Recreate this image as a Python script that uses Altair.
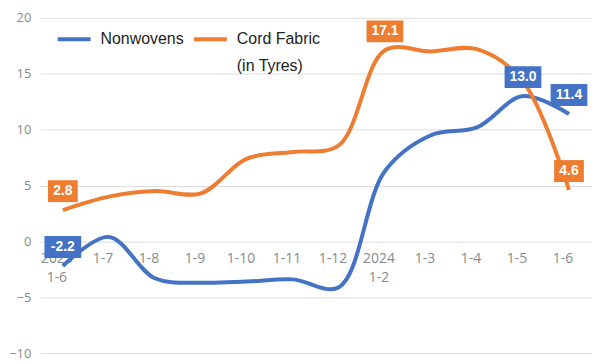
import altair as alt
import pandas as pd

categories = ["2023\n1-6", "1-7", "1-8", "1-9", "1-10", "1-11", "1-12",
              "2024\n1-2", "1-3", "1-4", "1-5", "1-6"]
nonwovens = [-2.2, 0.4, -3.3, -3.7, -3.6, -3.4, -4.1, 6.3, 9.5, 10.2, 13.0, 11.4]
cord_fabric = [2.8, 4.0, 4.5, 4.3, 7.4, 8.0, 8.6, 17.1, 17.0, 17.2, 14.3, 4.6]
series_names = ["Nonwovens", "Cord Fabric"]
series_colors = ["#4472C4", "#ED7D31"]
nonwovens_labeled = [0, 10, 11]
cord_labeled = [0, 7, 11]
y_ticks = [-10, -5, 0, 5, 10, 15, 20]

rows = []
for i, c in enumerate(categories):
    rows.append({"cat": c, "series": "Nonwovens", "value": nonwovens[i],
                 "lab": i in nonwovens_labeled})
    rows.append({"cat": c, "series": "Cord Fabric", "value": cord_fabric[i],
                 "lab": i in cord_labeled})
df = pd.DataFrame(rows)
df["label"] = df["value"].map(lambda v: f"{v:.1f}")
cats_df = pd.DataFrame({"cat": categories})

x_enc = alt.X("cat:N", sort=categories,
              scale=alt.Scale(type="point", padding=0.5), axis=None)
y_scale = alt.Scale(domain=[-10, 20], nice=False, zero=False)
y_axis = alt.Axis(values=y_ticks, title=None, domain=False, ticks=False, grid=True,
                  labelPadding=9, labelFontSize=13, labelColor="#8a8a8a",
                  labelFont="Open Sans", gridColor="#dedede", gridWidth=1)
color_scale = alt.Scale(domain=series_names, range=series_colors)
color_enc = alt.Color("series:N", scale=color_scale,
                      legend=alt.Legend(title=None, orient="none", legendX=16, legendY=3,
                                        direction="horizontal", symbolType="stroke",
                                        symbolSize=1089, symbolStrokeWidth=4,
                                        labelFontSize=16, labelFont="Liberation Sans",
                                        labelColor="#222222", labelOffset=8,
                                        columnPadding=2, labelBaseline="middle",
                                        gridAlign="none",
                                        labelExpr="datum.label == 'Cord Fabric' ? ['Cord Fabric', '(in Tyres)'] : [datum.label, '']"))

xlabels = alt.Chart(cats_df).mark_text(
    lineBreak="\n", baseline="top", dy=11, dx=-6, fontSize=14,
    font="Open Sans", color="#8a8a8a", lineHeight=19
).encode(x=x_enc, y=alt.datum(0, scale=y_scale, axis=y_axis), text="cat:N")

lines = alt.Chart(df).mark_line(
    interpolate="catmull-rom", strokeWidth=4
).encode(x=x_enc, y=alt.Y("value:Q", scale=y_scale, axis=y_axis), color=color_enc)

lab_df = df[df["lab"]]
path4 = "M-1.68,-2.73H1.68V-0.73H-1.68Z"
path3 = "M-1.36,-2.73H1.36V-0.73H-1.36Z"
boxes = alt.Chart(lab_df).mark_point(
    filled=True, opacity=1, size=484, strokeWidth=0
).encode(
    x=x_enc, y=alt.Y("value:Q", scale=y_scale, axis=y_axis),
    color=alt.Color("series:N", scale=color_scale, legend=None),
    shape=alt.condition("length(datum.label) > 3", alt.value(path4), alt.value(path3)),
)
texts = alt.Chart(lab_df).mark_text(
    dy=-19, fontSize=14, fontWeight="bold", font="Liberation Sans", color="white"
).encode(x=x_enc, y=alt.Y("value:Q", scale=y_scale, axis=y_axis), text="label:N")

chart = alt.layer(xlabels, lines, boxes, texts).properties(
    width=555, height=337,
    autosize=alt.AutoSizeParams(type="none"),
    padding={"left": 32, "top": 9, "right": 0, "bottom": 9},
).configure(
    style={"guide-label": {"lineHeight": 27}},
    view=alt.ViewConfig(stroke=None),
)

chart.save("out.html", embed_options={"renderer": "svg", "actions": False})
